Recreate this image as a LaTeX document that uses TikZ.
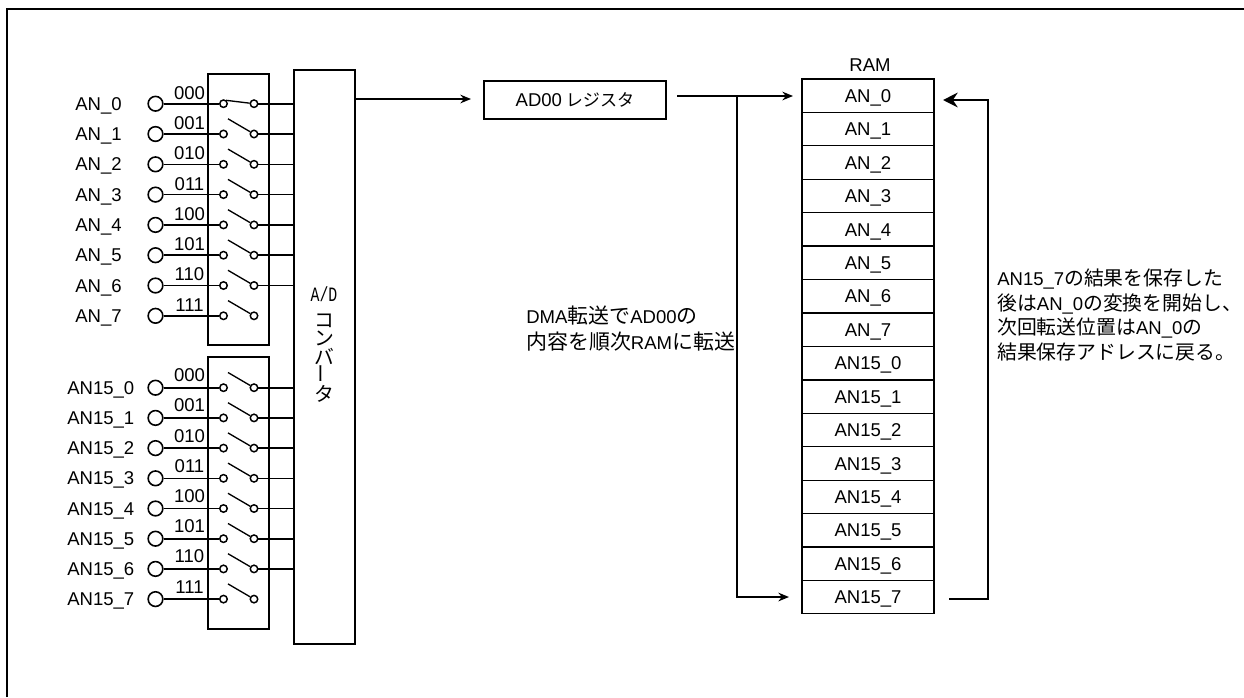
\documentclass[tikz,border=0pt]{standalone}
\usepackage{fontspec}
\setmainfont{Liberation Sans}
\newfontfamily\cjk[Scale=1.07]{Noto Sans CJK JP}
\newfontfamily\cjkwide[Scale=1.13]{Noto Sans CJK JP}
\newfontfamily\monofont{Liberation Mono}
\usepackage{graphicx}
\usetikzlibrary{arrows.meta}

\tikzset{
  txt/.style={inner sep=0pt,text height=10pt,text depth=0pt,font=\fontsize{13.9}{18}\selectfont},
  wire/.style={line width=1.2pt},
  thick box/.style={draw,line width=1.2pt,inner sep=0pt},
  pin/.style={draw,circle,line width=1.2pt,inner sep=0pt,minimum size=11pt},
  contact/.style={draw,circle,line width=1.1pt,inner sep=0pt,minimum size=5.6pt},
  lever/.style={line width=1pt},
  ramcell/.style={draw,line width=0.9pt,minimum width=99pt,minimum height=25pt,inner sep=0pt,text height=10pt,text depth=0pt,font=\fontsize{13.9}{18}\selectfont},
  arrow/.style={wire,-{Stealth[length=8pt,width=6.5pt]}},
  backarrow/.style={wire,-{Stealth[length=11pt,width=11pt]}}
}

\begin{document}
\begin{tikzpicture}[x=0.75pt,y=-0.75pt]
\useasboundingbox (0,0) rectangle (1244,697);
\draw[line width=1.3pt] (7,697) -- (7,9) -- (1244,9);

\node[thick box,minimum width=45.75pt,minimum height=203.25pt] (mux0) at (238.5,209.5) {};
\node[thick box,minimum width=45.75pt,minimum height=204pt] (mux1) at (238.5,493) {};
\node[thick box,minimum width=45.75pt,minimum height=430.5pt] (adc) at (324.5,357) {};

% first group
\foreach \i/\code in {0/000,1/001,2/010,3/011,4/100,5/101,6/110,7/111} {
  \node[pin] (a\i) at (155.5,103.7+30.3*\i) {};
  \node[txt,anchor=west] (al\i) at (75,103.7+30.3*\i) {AN\_\i};
  \node[txt] (ac\i) at (189.5,92.5+30.3*\i) {\code};
  \node[contact] (as\i) at (223.5,103.7+30.3*\i) {};
  \node[contact] (ad\i) at (254,103.7+30.3*\i) {};
  \draw[wire] (a\i) -- (as\i);
  \coordinate (at\i) at (228,88.5+30.3*\i);
}
\foreach \i in {1,...,7} \draw[lever] (at\i) -- (ad\i);
\coordinate (at0) at (226,100.3);
\draw[lever] (at0) -- (ad0);
\foreach \i in {0,...,6} \draw[wire] (ad\i) -- (ad\i -| adc.west);

% second group
\foreach \i/\code in {0/000,1/001,2/010,3/011,4/100,5/101,6/110,7/111} {
  \node[pin] (b\i) at (155.5,387.7+30.2*\i) {};
  \node[txt,anchor=west] (bl\i) at (67,387.7+30.2*\i) {AN15\_\i};
  \node[txt] (bc\i) at (189.5,375+30.2*\i) {\code};
  \node[contact] (bs\i) at (223.5,387.7+30.2*\i) {};
  \node[contact] (bd\i) at (254,387.7+30.2*\i) {};
  \draw[wire] (b\i) -- (bs\i);
  \coordinate (bt\i) at (228,372.5+30.2*\i);
  \draw[lever] (bt\i) -- (bd\i);
}
\foreach \i in {0,...,6} \draw[wire] (bd\i) -- (bd\i -| adc.west);

\node[inner sep=0pt,align=center,font=\fontsize{13.9}{20}\selectfont] (adclabel) at (324,345)
  {\scalebox{0.8}[1.1]{\monofont A/D}\\[-1pt]\cjk コ\\[-6pt]\cjk ン\\[-6pt]\cjk バ\\[-6pt]\rotatebox{90}{\cjk ー}\\[-6pt]\cjk タ};

\node[thick box,minimum width=136.5pt,minimum height=28.5pt,text height=10pt,text depth=0pt,font=\fontsize{13.9}{18}\selectfont] (reg) at (575,100) {AD00{\fontsize{12}{18}\selectfont\cjk\ レジスタ}};
\coordinate (adcout) at (355,99);
\coordinate (regout) at (677,96);
\coordinate (fork) at (737,96);

% ram
\node[txt] (ramlabel) at (870,65) {RAM};
\foreach \i/\name in {0/AN\_0,1/AN\_1,2/AN\_2,3/AN\_3,4/AN\_4,5/AN\_5,6/AN\_6,7/AN\_7,8/AN15\_0,9/AN15\_1,10/AN15\_2,11/AN15\_3,12/AN15\_4,13/AN15\_5,14/AN15\_6,15/AN15\_7}
  \node[ramcell] (ram\i) at (868,95.7+33.43*\i) {\name};

\coordinate (regin) at (471,99);
\coordinate (ramtop) at (793,96);
\coordinate (rambot) at (789,597);
\coordinate (backstart) at (949,599);
\coordinate (backtip) at (943,100);
\coordinate (backcorner) at (988,599);
\draw[arrow] (adcout) -- (regin);
\draw[arrow] (regout) -- (ramtop);
\draw[arrow] (fork) |- (rambot);
\draw[backarrow] (backstart) -- (backcorner) |- (backtip);

\node[inner sep=0pt,anchor=west,align=left,font=\fontsize{13.9}{19.5}\selectfont] (dmatext) at (526,329)
  {DMA{\cjkwide 転送で}AD00{\cjkwide の}\\{\cjkwide 内容を順次}RAM{\cjkwide に転送}};
\node[inner sep=0pt,anchor=west,align=left,font=\fontsize{13.9}{18.4}\selectfont] (backtext) at (997,315)
  {AN15\_7{\cjk の結果を保存した}\\{\cjk 後は}AN\_0{\cjk の変換を開始し、}\\{\cjk 次回転送位置は}AN\_0{\cjk の}\\{\cjk 結果保存アドレスに戻る。}};
\end{tikzpicture}
\end{document}
